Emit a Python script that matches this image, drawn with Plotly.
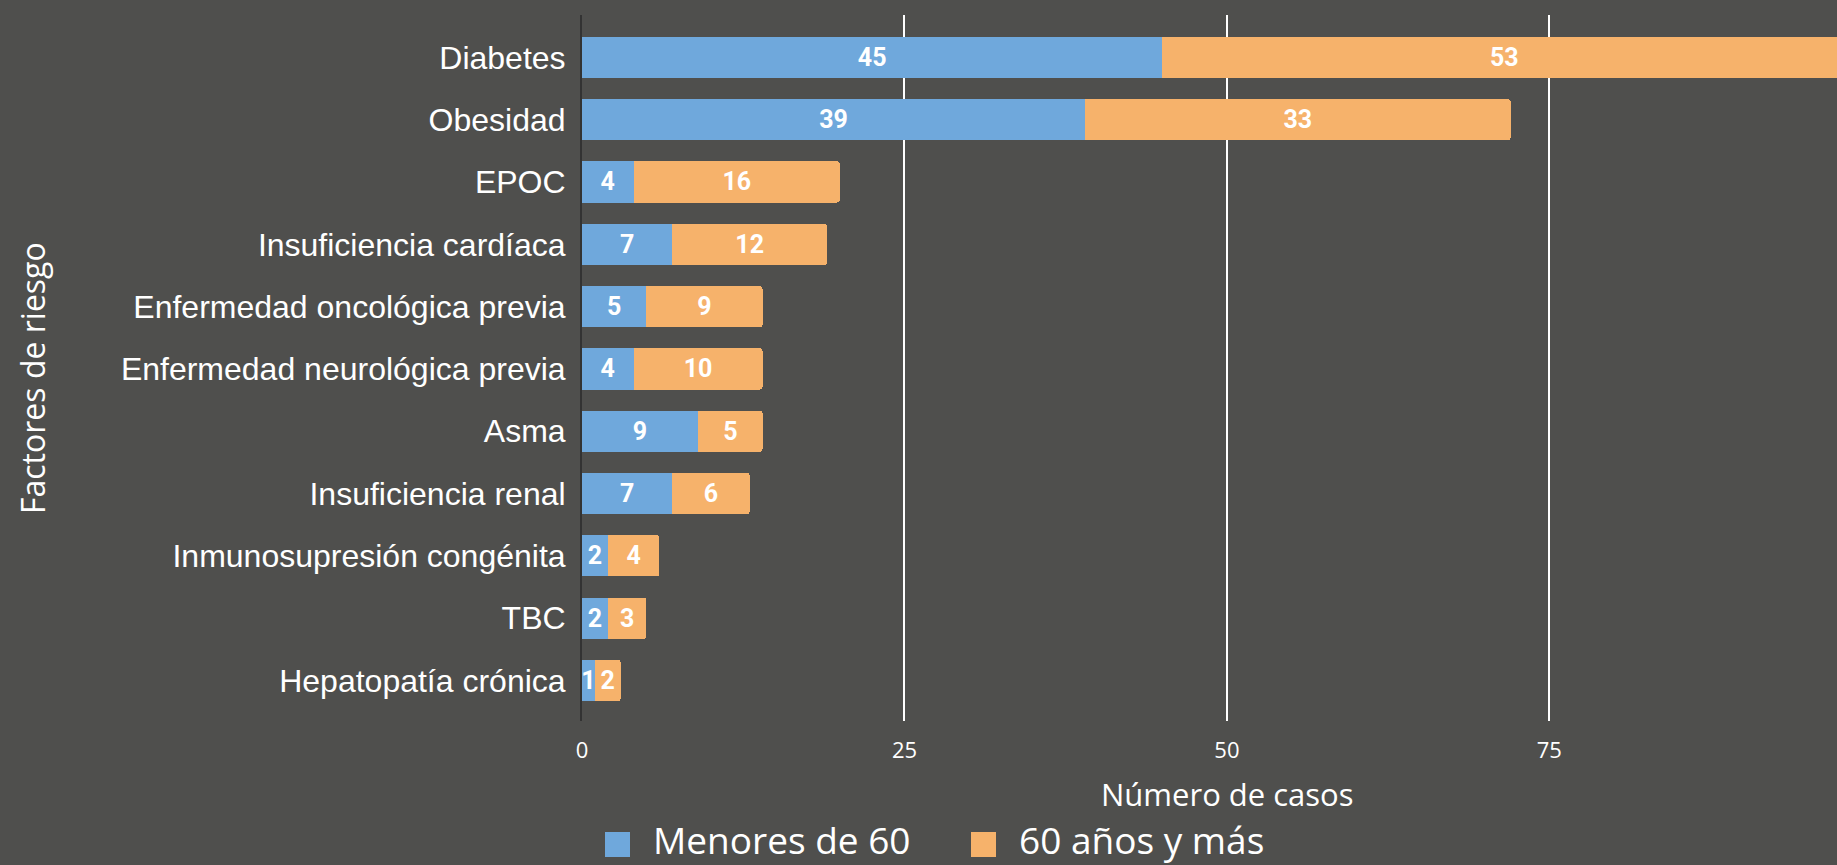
import plotly.graph_objects as go

# datos del grafico (de arriba hacia abajo)
factores = [
    "Diabetes",
    "Obesidad",
    "EPOC",
    "Insuficiencia cardíaca",
    "Enfermedad oncológica previa",
    "Enfermedad neurológica previa",
    "Asma",
    "Insuficiencia renal",
    "Inmunosupresión congénita",
    "TBC",
    "Hepatopatía crónica",
]
menores_60 = [45, 39, 4, 7, 5, 4, 9, 7, 2, 2, 1]
mayores_60 = [53, 33, 16, 12, 9, 10, 5, 6, 4, 3, 2]
series_names = ["Menores de 60", "60 años y más"]
x_ticks = [0, 25, 50, 75]

BG = "#4f4f4d"
BLUE = "#6fa8dc"
ORANGE = "#f6b26b"
W, H = 1837, 865
L, R, T, B = 582, 0, 15, 144

fig = go.Figure()
for name, vals, col in [(series_names[0], menores_60, BLUE), (series_names[1], mayores_60, ORANGE)]:
    fig.add_trace(go.Bar(
        y=factores, x=vals, name=name, orientation="h",
        marker=dict(color=col, line=dict(width=0)),
        text=vals, textposition="inside", insidetextanchor="middle",
        textangle=0,
        textfont=dict(family="Roboto", size=25, color="white", weight="bold"),
        showlegend=False,
    ))

fig.update_layout(
    width=W, height=H,
    margin=dict(l=L, r=R, t=T, b=B),
    paper_bgcolor=BG, plot_bgcolor=BG,
    barmode="stack", bargap=0.34, barcornerradius=3,
    uniformtext=dict(minsize=25, mode="show"),
    xaxis=dict(
        range=[0, 97.3], tickvals=x_ticks, showgrid=True,
        gridcolor="white", gridwidth=2, zeroline=False,
        tickfont=dict(family="Open Sans", size=22, color="white"),
        ticklabelstandoff=14,
    ),
    yaxis=dict(
        type="category", categoryorder="array", categoryarray=factores,
        range=[10.65, -0.68], showgrid=False, zeroline=False,
        showline=True, linecolor="#333333", linewidth=2,
        tickfont=dict(family="Liberation Sans, Arial", size=32, color="white"),
        ticklabelstandoff=8,
    ),
    font=dict(color="white"),
)

pw = W - L - R
ph = H - B - T

# titulos de ejes
fig.add_annotation(
    text="Número de casos", showarrow=False,
    xref="paper", yref="paper", x=(1227 - L) / pw, y=(H - B - 794) / ph,
    xanchor="center", yanchor="middle",
    font=dict(family="Open Sans", size=31, color="white"),
)
fig.add_annotation(
    text="Factores de riesgo", textangle=-90, showarrow=False,
    xref="paper", yref="paper", x=(33 - L) / pw, y=(H - B - 378) / ph,
    xanchor="center", yanchor="middle",
    font=dict(family="Open Sans", size=32, color="white"),
)

# leyenda manual (cuadros grandes)
leg_y = (H - B - 839) / ph
for name, col, sx, tx in [(series_names[0], BLUE, 605, 651), (series_names[1], ORANGE, 971, 1017)]:
    fig.add_shape(
        type="rect", xref="paper", yref="paper",
        x0=(sx - L) / pw, x1=(sx + 25 - L) / pw,
        y0=(H - B - 857) / ph, y1=(H - B - 832) / ph,
        fillcolor=col, line=dict(width=0),
    )
    fig.add_annotation(
        text=name, showarrow=False, xref="paper", yref="paper",
        x=(tx - L) / pw, y=leg_y, xanchor="left", yanchor="middle",
        font=dict(family="Open Sans", size=37, color="white"),
    )

fig.write_html(
    "out.html",
    config={"displayModeBar": False},
    post_script="document.body.style.margin='0';document.body.style.overflow='hidden';",
)
